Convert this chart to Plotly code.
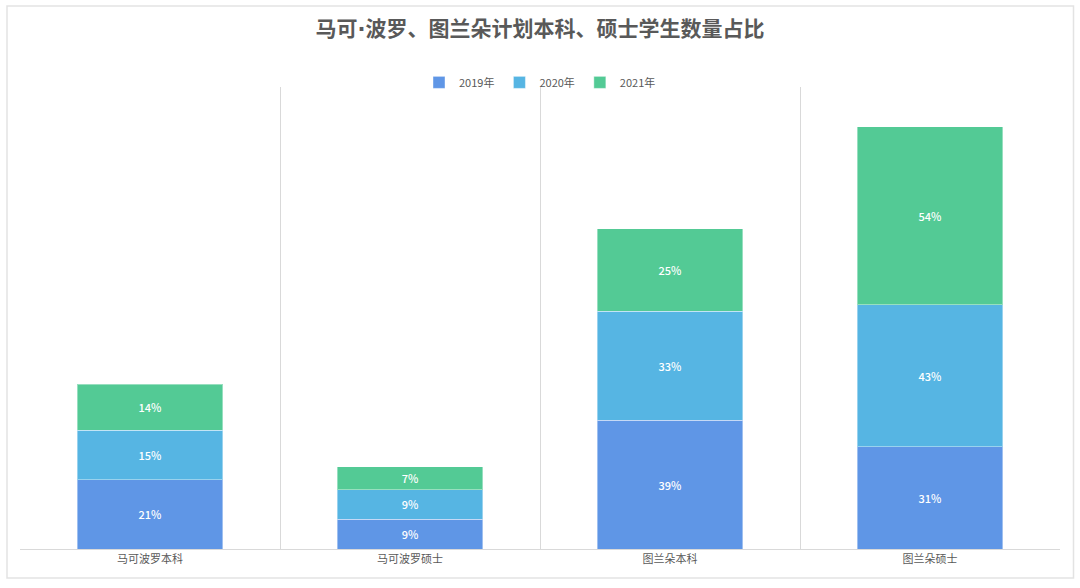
import plotly.graph_objects as go

# 各项目本科/硕士学生数量占比（%）
categories = ["马可波罗本科", "马可波罗硕士", "图兰朵本科", "图兰朵硕士"]
years = ["2019年", "2020年", "2021年"]
share_2019 = [21, 9, 39, 31]
share_2020 = [15, 9, 33, 43]
share_2021 = [14, 7, 25, 54]

colors = ["#5f96e6", "#56b5e3", "#53ca95"]
font_cn = "Noto Sans CJK SC, Noto Sans, sans-serif"

fig = go.Figure()
for name, vals, col in zip(years, [share_2019, share_2020, share_2021], colors):
    fig.add_trace(go.Bar(
        x=categories,
        y=vals,
        name=name,
        marker=dict(color=col, line=dict(color="rgba(255,255,255,0.4)", width=1)),
        width=0.56,
        text=[f"{v}%" for v in vals],
        textposition="inside",
        insidetextanchor="middle",
        textfont=dict(color="white", size=11, family=font_cn, weight=500),
    ))

# narrow middle dot, the CJK font draws it full width
title_txt = ("马可<span style='font-family:DejaVu Sans'>·</span>"
             "波罗、图兰朵计划本科、硕士学生数量占比")

fig.update_layout(
    barmode="stack",
    width=1080,
    height=588,
    margin=dict(l=20, r=20, t=87, b=39),
    paper_bgcolor="white",
    plot_bgcolor="white",
    font=dict(family=font_cn, color="#595959", size=11),
    title=dict(
        text=title_txt,
        x=0.5, xanchor="center",
        y=0.951, yanchor="middle",
        font=dict(size=21, color="#595959", weight="bold"),
    ),
    legend=dict(
        orientation="h",
        x=0.5, xanchor="center",
        y=1.01, yanchor="middle",
        bgcolor="rgba(0,0,0,0)",
        font=dict(size=11, color="#595959"),
        itemwidth=30,
        traceorder="normal",
    ),
    showlegend=True,
    shapes=[dict(
        type="rect", xref="paper", yref="paper",
        x0=-13 / 1040, x1=1053.5 / 1040,
        y0=-29 / 462, y1=81 / 462 + 1,
        line=dict(color="#e3e3e3", width=1.5),
        layer="below",
    )],
)

fig.update_xaxes(
    type="category",
    range=[-0.5, 3.5],
    tickson="boundaries",
    ticks="",
    showgrid=True,
    gridcolor="#d9d9d9",
    gridwidth=1,
    showline=True,
    linecolor="#d9d9d9",
    linewidth=1,
    tickfont=dict(size=11, color="#595959"),
    fixedrange=True,
)
fig.update_yaxes(
    range=[0, 140],
    visible=False,
    showgrid=False,
    fixedrange=True,
)

# drop the default page margin so the figure sits at the window's corner
fig.write_html("out.html", config={"displayModeBar": False},
               post_script="document.body.style.margin='0';")
